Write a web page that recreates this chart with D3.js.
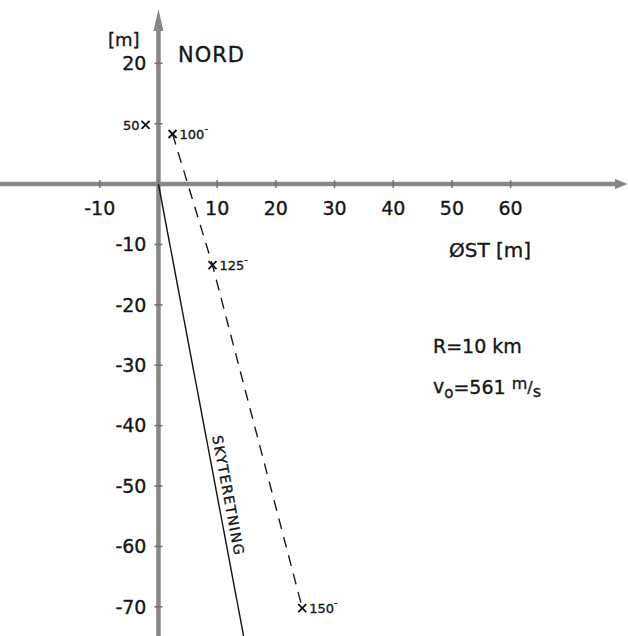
<!DOCTYPE html>
<meta charset="utf-8">
<style>
  html, body { margin: 0; padding: 0; background: #fff; }
  svg { display: block; }
  text { font-family: "DejaVu Sans", sans-serif; fill: #161616; stroke: #161616; stroke-width: 0.35px; }
  .axis-line { stroke: #878787; stroke-width: 4.5px; }
  .tick-mark { stroke: #707070; stroke-width: 1.5px; }
</style>
<body>
</body>
<script src="https://cdn.jsdelivr.net/npm/d3@7"></script>
<script>

  var width = 628;
  var height = 636;

  // axis ticks (metres)
  var xTicks = [-10, 0, 10, 20, 30, 40, 50, 60];
  var xLabels = [-10, 10, 20, 30, 40, 50, 60];
  var yTicks = [20, 10, -10, -20, -30, -40, -50, -60, -70];
  var yLabels = [20, -10, -20, -30, -40, -50, -60, -70];

  // drift points: time label, east, north
  var times = [50, 100, 125, 150];
  var eastM = [-2.2, 2.4, 9.2, 24.5];
  var northM = [9.8, 8.3, -13.4, -70.2];

  // firing direction line (east, north)
  var dirEast = [0, 14.5];
  var dirNorth = [0, -74.8];

  var x = d3.scaleLinear().domain([-27, 80]).range([0, width]);
  var y = d3.scaleLinear().domain([29, -75]).range([9, height + 1]);

  var svg = d3.select("body").append("svg")
      .attr("width", width)
      .attr("height", height);

  /* axes */
  svg.append("line").attr("class", "axis-line")
      .attr("x1", x(-27)).attr("x2", x(78.2))
      .attr("y1", y(0)).attr("y2", y(0));
  svg.append("path")
      .attr("d", "M" + x(80) + "," + y(0) + "l-13,-5l0,10z")
      .attr("fill", "#878787");

  svg.append("line").attr("class", "axis-line")
      .attr("x1", x(0)).attr("x2", x(0))
      .attr("y1", y(25.5)).attr("y2", y(-75));
  svg.append("path")
      .attr("d", "M" + x(0) + "," + y(29) + "l-5,22l10,0z")
      .attr("fill", "#878787");

  // x ticks + labels
  var xAxis = svg.append("g")
      .attr("transform", "translate(0," + y(0) + ")");
  xAxis.selectAll(".tick-mark")
      .data(xTicks)
      .enter().append("line")
      .attr("class", "tick-mark")
      .attr("x1", d => x(d)).attr("x2", d => x(d))
      .attr("y1", -4).attr("y2", 4);
  xAxis.selectAll("text")
      .data(xLabels)
      .enter().append("text")
      .attr("x", d => x(d))
      .attr("y", 31)
      .attr("text-anchor", "middle")
      .style("font-size", "19px")
      .text(d => d < 0 ? "-" + Math.abs(d) : d);

  // y ticks + labels
  var yAxis = svg.append("g")
      .attr("transform", "translate(" + x(0) + ",0)");
  yAxis.selectAll(".tick-mark")
      .data(yTicks)
      .enter().append("line")
      .attr("class", "tick-mark")
      .attr("x1", -4).attr("x2", 4)
      .attr("y1", d => y(d)).attr("y2", d => y(d));
  yAxis.selectAll("text")
      .data(yLabels)
      .enter().append("text")
      .attr("x", -12)
      .attr("y", d => y(d))
      .attr("dy", "0.36em")
      .attr("text-anchor", "end")
      .style("font-size", "19px")
      .text(d => d < 0 ? "-" + Math.abs(d) : d);

  /* axis titles */
  svg.append("text").attr("x", 108).attr("y", 46)
      .style("font-size", "18px").text("[m]");
  svg.append("text").attr("x", 178).attr("y", 62)
      .style("font-size", "21px").style("letter-spacing", "1px").text("NORD");
  svg.append("text").attr("x", 449).attr("y", 257)
      .style("font-size", "20px").text("ØST [m]");

  /* parameters */
  svg.append("text").attr("x", 433).attr("y", 353)
      .style("font-size", "19px").text("R=10 km");
  var v0 = svg.append("text").attr("x", 433).attr("y", 393)
      .style("font-size", "19px");
  v0.append("tspan").text("v");
  v0.append("tspan").attr("dy", 5).style("font-size", "15px").text("o");
  v0.append("tspan").attr("dy", -4).text("=561 ");
  v0.append("tspan").attr("dy", -5).style("font-size", "16px").text("m");
  v0.append("tspan").attr("dy", 4).style("font-size", "16px").text("/");
  v0.append("tspan").attr("dy", 4).style("font-size", "16px").text("s");

  /* firing direction */
  svg.append("line")
      .attr("x1", x(dirEast[0])).attr("y1", y(dirNorth[0]))
      .attr("x2", x(dirEast[1])).attr("y2", y(dirNorth[1]))
      .attr("stroke", "#111").attr("stroke-width", 1.4);

  var ang = Math.atan2(y(dirNorth[1]) - y(dirNorth[0]), x(dirEast[1]) - x(dirEast[0])) * 180 / Math.PI;
  var tN = -42;
  var tE = dirEast[1] * tN / dirNorth[1];
  svg.append("text")
      .attr("transform", "translate(" + x(tE) + "," + y(tN) + ") rotate(" + ang + ")")
      .attr("y", -6)
      .style("font-size", "14px")
      .style("letter-spacing", "1.3px")
      .text("SKYTERETNING");

  /* drift track */
  var pts = times.map((t, i) => ({ t: t, e: eastM[i], n: northM[i] }));
  var track = pts.slice(1);

  svg.append("path")
      .datum(track)
      .attr("fill", "none")
      .attr("stroke", "#1a1a1a")
      .attr("stroke-width", 1.4)
      .attr("stroke-dasharray", "11,8")
      .attr("d", d3.line().x(d => x(d.e)).y(d => y(d.n)));

  var mk = svg.selectAll(".mark")
      .data(pts)
      .enter().append("g")
      .attr("class", "mark")
      .attr("transform", d => "translate(" + x(d.e) + "," + y(d.n) + ")");
  mk.append("path")
      .attr("d", "M-4,-4L4,4M-4,4L4,-4")
      .attr("stroke", "#111").attr("stroke-width", 1.8);

  var lab = mk.append("text")
      .attr("x", d => d.t == 50 ? -6 : 7)
      .attr("y", 5)
      .attr("text-anchor", d => d.t == 50 ? "end" : "start")
      .style("font-size", "13px");
  lab.append("tspan").text(d => d.t);
  lab.append("tspan")
      .attr("dy", -7)
      .style("font-size", "10px")
      .text(d => d.t == 50 ? "" : "-");

</script>
